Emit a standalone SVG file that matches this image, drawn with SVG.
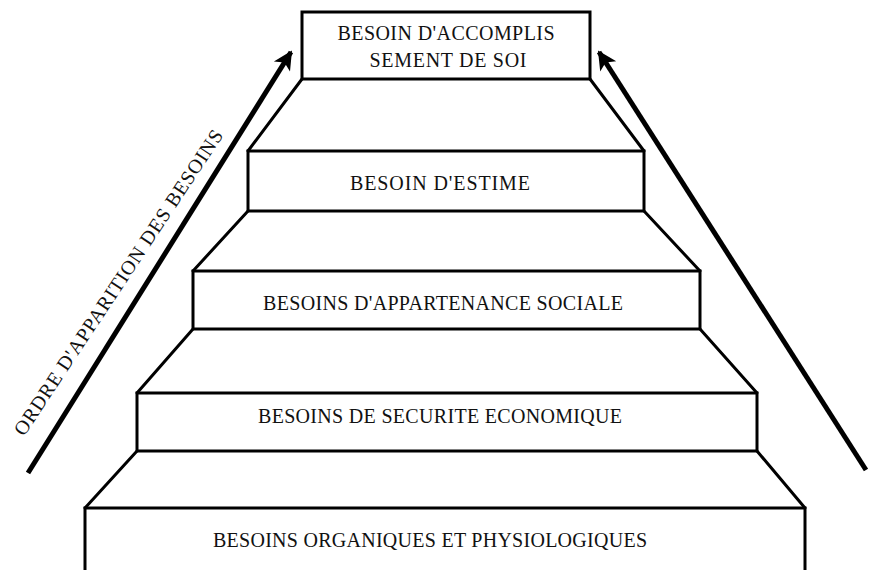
<svg xmlns="http://www.w3.org/2000/svg" width="870" height="570" viewBox="0 0 870 570">
<style>
  .box { fill: #ffffff; stroke: #000000; stroke-width: 3; }
  .edge { fill: none; stroke: #000000; stroke-width: 3; stroke-linecap: round; }
  .lbl { font-family: "Liberation Serif", "DejaVu Serif", serif; font-size: 20px; fill: #111111; text-anchor: middle; }
  .arrow { fill: none; stroke: #000000; stroke-width: 5; }
</style>
<defs>
  <marker id="head" viewBox="0 0 10 10" refX="9" refY="5" markerWidth="4.4" markerHeight="3.8" orient="auto" markerUnits="strokeWidth">
    <path d="M0,0 L10,5 L0,10 L2.5,5 Z" fill="#000000"/>
  </marker>
</defs>
<rect width="870" height="570" fill="#ffffff"/>

<g id="connectors">
  <line class="edge" x1="302" y1="79" x2="248" y2="151"/>
  <line class="edge" x1="590" y1="79" x2="644" y2="151"/>
  <line class="edge" x1="248" y1="211" x2="193" y2="271"/>
  <line class="edge" x1="644" y1="211" x2="700" y2="271"/>
  <line class="edge" x1="193" y1="329" x2="137" y2="393"/>
  <line class="edge" x1="700" y1="329" x2="757" y2="393"/>
  <line class="edge" x1="137" y1="451" x2="85" y2="508"/>
  <line class="edge" x1="757" y1="451" x2="805" y2="508"/>
</g>

<g id="node-accomplissement">
  <rect class="box" x="302" y="12" width="288" height="67"/>
  <text class="lbl" x="446" y="40" textLength="217" lengthAdjust="spacing">BESOIN D'ACCOMPLIS</text>
  <text class="lbl" x="448" y="67" textLength="157" lengthAdjust="spacing">SEMENT DE SOI</text>
</g>

<g id="node-estime">
  <rect class="box" x="248" y="151" width="396" height="60"/>
  <text class="lbl" x="440" y="190" textLength="180" lengthAdjust="spacing">BESOIN D'ESTIME</text>
</g>

<g id="node-appartenance">
  <rect class="box" x="193" y="271" width="507" height="58"/>
  <text class="lbl" x="443" y="310" textLength="360" lengthAdjust="spacing">BESOINS D'APPARTENANCE SOCIALE</text>
</g>

<g id="node-securite">
  <rect class="box" x="137" y="393" width="620" height="58"/>
  <text class="lbl" x="440" y="423" textLength="364" lengthAdjust="spacing">BESOINS DE SECURITE ECONOMIQUE</text>
</g>

<g id="node-organiques">
  <rect class="box" x="85" y="508" width="720" height="80"/>
  <text class="lbl" x="430" y="547" textLength="434" lengthAdjust="spacing">BESOINS ORGANIQUES ET PHYSIOLOGIQUES</text>
</g>

<g id="arrows">
  <line class="arrow" x1="28" y1="473" x2="291" y2="52" marker-end="url(#head)"/>
  <line class="arrow" x1="866" y1="470" x2="599" y2="52" marker-end="url(#head)"/>
</g>

<g id="axis-label">
  <text class="lbl" style="text-anchor:start" x="0" y="0" textLength="362" lengthAdjust="spacing" transform="translate(24,437) rotate(-56.5)">ORDRE D'APPARITION DES BESOINS</text>
</g>
</svg>
